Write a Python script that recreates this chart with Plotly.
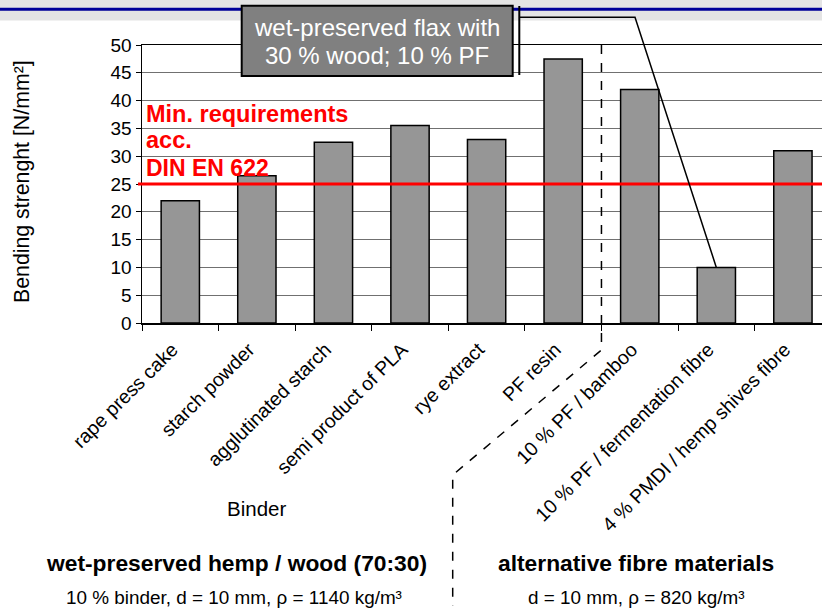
import plotly.graph_objects as go

# ---------------- data ----------------
categories = [
    "rape press cake", "starch powder", "agglutinated starch", "semi product of PLA",
    "rye extract", "PF resin", "10 % PF / bamboo", "10 % PF / fermentation fibre",
    "4 % PMDI / hemp shives fibre",
]
bending_strength = [22, 26.5, 32.5, 35.5, 33, 47.5, 42, 10, 31]
y_ticks = [0, 5, 10, 15, 20, 25, 30, 35, 40, 45, 50]
min_requirement = 25
highlight_index = 7          # bar pointed to by the callout
group_split_after = 5        # last index of first group

# ---------------- geometry ----------------
W, H = 822, 610
L, R = 142, 822
T, B = 45, 323
XR = [-0.5, 8.38]
YR = [0, 50]
FONT = "Liberation Sans, Arial, sans-serif"


def px(x):
    return (x - L) / (R - L)


def py(y):
    return (B - y) / (B - T)


def xcat(i):
    return (i - XR[0]) / (XR[1] - XR[0])


def yval(v):
    return (v - YR[0]) / (YR[1] - YR[0])


fig = go.Figure()
fig.add_trace(go.Bar(
    x=categories, y=bending_strength, width=0.5,
    marker=dict(color="#969696", line=dict(color="black", width=1.5)),
    hoverinfo="skip",
))

shapes = []
# header band
shapes.append(dict(type="rect", xref="paper", yref="paper", x0=px(0), x1=px(W), y0=py(0), y1=py(20.5),
                   fillcolor="#e4e4e4", line=dict(width=0), layer="above"))
shapes.append(dict(type="line", xref="paper", yref="paper", x0=px(0), x1=px(W), y0=py(9.3), y1=py(9.3),
                   line=dict(color="#000099", width=3), layer="above"))
# min requirement line
shapes.append(dict(type="line", xref="paper", yref="paper", x0=px(138), x1=1, y0=yval(min_requirement),
                   y1=yval(min_requirement), line=dict(color="#ff0000", width=3), layer="above"))
# dashed group separator
sx = xcat(group_split_after + 0.5)
shapes.append(dict(type="path", xref="paper", yref="paper",
                   path=f"M {sx},{yval(YR[1])} L {sx},{py(350)} L {px(452.7)},{py(475)} L {px(452.7)},{py(606)}",
                   line=dict(color="black", width=1.5, dash="dash"), layer="above"))
# callout box
shapes.append(dict(type="rect", xref="paper", yref="paper", x0=px(241.7), x1=px(512.7), y0=py(5.7), y1=py(76),
                   fillcolor="#808080", line=dict(color="black", width=2), layer="above"))
shapes.append(dict(type="line", xref="paper", yref="paper", x0=px(519.3), x1=px(519.3), y0=py(6), y1=py(75),
                   line=dict(color="black", width=2), layer="above"))
shapes.append(dict(type="path", xref="paper", yref="paper",
                   path=f"M {px(520)},{py(17.3)} L {px(635)},{py(17.3)} L {xcat(highlight_index)},{yval(bending_strength[highlight_index])}",
                   line=dict(color="black", width=1.5), layer="above"))

annotations = []


def ann(text, x, y, size, color="black", bold=False, xanchor="center", angle=0):
    if bold:
        text = f"<b>{text}</b>"
    annotations.append(dict(text=text, xref="paper", yref="paper", x=px(x), y=py(y), showarrow=False,
                            xanchor=xanchor, yanchor="middle", textangle=angle,
                            font=dict(family=FONT, size=size, color=color)))


ann("wet-preserved flax with", 377.2, 28, 24, color="white")
ann("30 % wood; 10 % PF", 377.2, 55, 24, color="white")
ann("Min. requirements", 144, 114, 23.5, color="#ff0000", bold=True, xanchor="left")
ann("acc.", 144, 140, 23.5, color="#ff0000", bold=True, xanchor="left")
ann("DIN EN 622", 144, 168, 23, color="#ff0000", bold=True, xanchor="left")
ann("Bending strenght [N/mm²]", 22, 181, 21.3, angle=-90)
ann("Binder", 256.7, 509, 20.5)
ann("wet-preserved hemp / wood (70:30)", 236.5, 563, 22.8, bold=True)
ann("10 % binder, d = 10 mm, ρ = 1140 kg/m³", 234, 597, 18.9)
ann("alternative fibre materials", 635.5, 563, 22.8, bold=True)
ann("d = 10 mm, ρ = 820 kg/m³", 636, 597, 18.9)

fig.update_layout(
    width=W, height=H,
    margin=dict(l=L, r=W - R, t=T, b=H - B, pad=0),
    paper_bgcolor="white", plot_bgcolor="white",
    showlegend=False, hovermode=False,
    font=dict(family=FONT, size=19, color="black"),
    shapes=shapes, annotations=annotations,
    xaxis=dict(type="category", range=XR, tickangle=-45, tickson="boundaries", ticks="outside",
               ticklen=6, tickcolor="black", showline=True, mirror=True, linecolor="black", linewidth=1.5,
               showgrid=False, tickfont=dict(family=FONT, size=19.5), automargin=False,
               ticklabelstandoff=6, ticklabelshift=-8),
    yaxis=dict(range=YR, tickvals=y_ticks, ticks="outside", ticklen=5, tickcolor="black",
               showline=True, linecolor="black", linewidth=1.5, showgrid=True, gridcolor="#707070",
               gridwidth=1, zeroline=False, tickfont=dict(family=FONT, size=19), automargin=False),
)

fig.write_html("out.html", config={"displayModeBar": False, "staticPlot": True},
               post_script="document.body.style.margin='0px';")
